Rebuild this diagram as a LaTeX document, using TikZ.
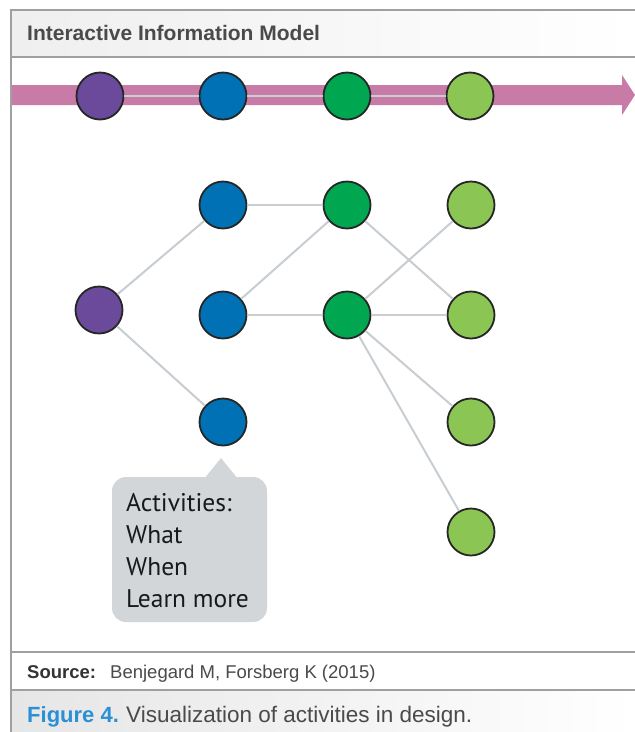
\documentclass[tikz,border=0pt]{standalone}
\usepackage{fontspec}
\setmainfont{Liberation Sans}
\newfontfamily\srcfont{Liberation Sans}
\newfontfamily\callfont{PT Sans}
\definecolor{cpurple}{HTML}{6B4A9B}
\definecolor{cblue}{HTML}{0071B4}
\definecolor{cdgreen}{HTML}{00A650}
\definecolor{clgreen}{HTML}{8BC553}
\definecolor{cpink}{HTML}{C87BA6}
\definecolor{cedge}{HTML}{C8CDD2}
\definecolor{ccall}{HTML}{D2D6D9}
\definecolor{cframe}{HTML}{A0A0A0}
\definecolor{ccapblue}{HTML}{2B8FD6}
\definecolor{ctxt}{HTML}{4A4A4A}
\definecolor{chdr}{HTML}{EFEFEF}
\definecolor{ccap}{HTML}{E6E6E6}
\begin{document}
\begin{tikzpicture}[x=1pt,y=-1pt,
  dot/.style={circle, draw=black!85, line width=1.8pt, minimum size=47pt, inner sep=0pt},
  edge/.style={draw=cedge, line width=2pt},
  frame/.style={draw=cframe, line width=1.4pt},
  callbox/.style={fill=ccall, rounded corners=14pt, minimum width=155pt, minimum height=145pt, inner sep=0pt}]
\useasboundingbox (0,0) rectangle (635,732);
\fill[white] (0,0) rectangle (635,732);
% backgrounds
\shade[left color=chdr, right color=white] (11,10) rectangle (635,57);
\shade[left color=ccap, right color=white] (11,690) rectangle (635,732);
% frame
\draw[frame] (635,10) -- (11,10) -- (11,732);
\draw[frame] (11,57) -- (635,57);
\draw[frame] (11,652) -- (635,652);
\draw[frame] (11,690) -- (635,690);
% titles
\node[anchor=base west, inner sep=0pt, text=ctxt, font=\srcfont\bfseries\fontsize{21}{24}\selectfont] (title) at (27,40) {Interactive Information Model};
\node[anchor=base west, inner sep=0pt, text=black!80, font=\srcfont\bfseries\fontsize{18.5}{22}\selectfont] (srclab) at (27,678) {Source:};
\node[anchor=base west, inner sep=0pt, text=ctxt, font=\srcfont\fontsize{18.5}{22}\selectfont] (srctxt) at (110,678) {Benjegard M, Forsberg K (2015)};
\node[anchor=base west, inner sep=0pt, text=ccapblue, font=\srcfont\bfseries\fontsize{22}{25}\selectfont] (figlab) at (27,722) {Figure 4.};
\node[anchor=base west, inner sep=0pt, text=ctxt, font=\srcfont\fontsize{22.5}{25}\selectfont] (figtxt) at (126,722) {Visualization of activities in design.};
% arrow band
\fill[cpink] (12,85) -- (622,85) -- (622,75) -- (635,95) -- (622,115) -- (622,105) -- (12,105) -- cycle;
% top row
\node[dot, fill=cpurple] (t1) at (100,96) {};
\node[dot, fill=cblue] (t2) at (223,96) {};
\node[dot, fill=cdgreen] (t3) at (347,96) {};
\node[dot, fill=clgreen] (t4) at (470,96) {};
\draw[edge, line width=1.5pt] (t1) -- (t2);
\draw[edge, line width=1.5pt] (t2) -- (t3);
\draw[edge, line width=1.5pt] (t3) -- (t4);
% network
\node[dot, fill=cpurple] (p) at (99,310) {};
\node[dot, fill=cblue] (b1) at (223,205) {};
\node[dot, fill=cblue] (b2) at (223,315) {};
\node[dot, fill=cblue] (b3) at (223,422) {};
\node[dot, fill=cdgreen] (g1) at (347,205) {};
\node[dot, fill=cdgreen] (g2) at (347,315) {};
\node[dot, fill=clgreen] (l1) at (471,205) {};
\node[dot, fill=clgreen] (l2) at (471,315) {};
\node[dot, fill=clgreen] (l3) at (471,422) {};
\node[dot, fill=clgreen] (l4) at (471,532) {};
\draw[edge] (p) -- (b1);
\draw[edge] (p) -- (b3);
\draw[edge] (b1) -- (g1);
\draw[edge] (b2) -- (g1);
\draw[edge] (b2) -- (g2);
\draw[edge] (g1) -- (l2);
\draw[edge] (g2) -- (l1);
\draw[edge] (g2) -- (l2);
\draw[edge] (g2) -- (l3);
\draw[edge] (g2) -- (l4);
% callout
\node[callbox] (cbox) at (189.5,549.5) {};
\fill[ccall] (204,479) -- (221,458) -- (238,479) -- cycle;
\node[anchor=north west, inner sep=0pt, align=left, text=black!90, font=\callfont\fontsize{25.5}{32}\selectfont] (ctext) at (126,493) {Activities:\\What\\When\\Learn more};
\end{tikzpicture}
\end{document}
